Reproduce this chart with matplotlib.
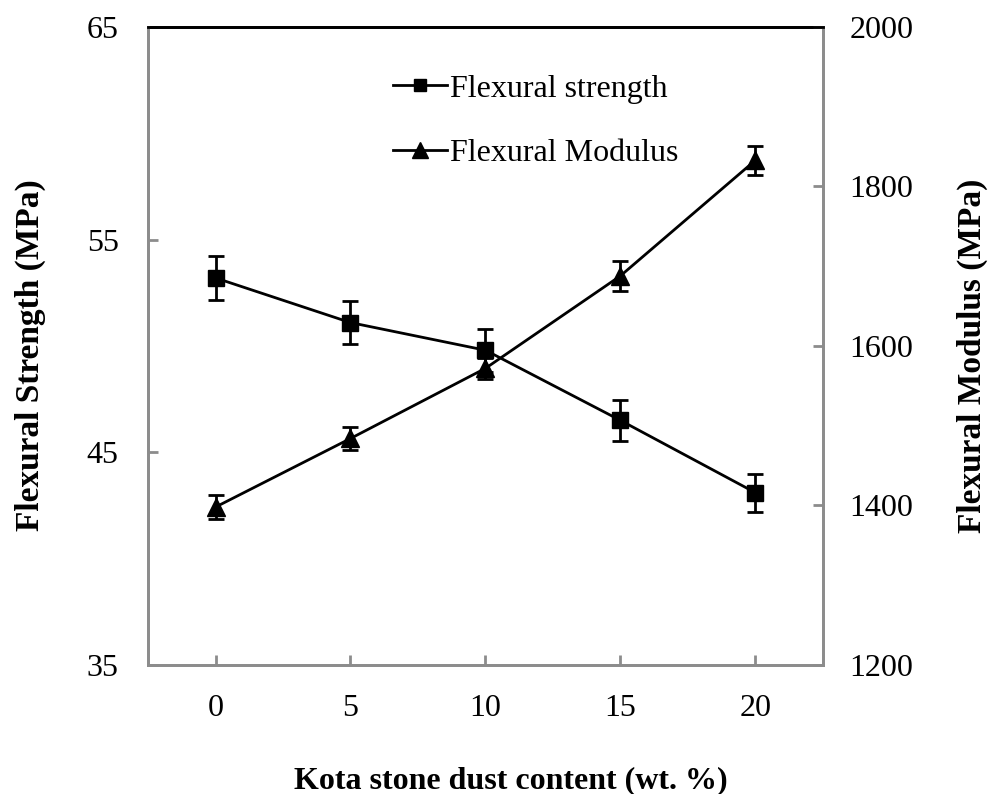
import numpy as np
import matplotlib.pyplot as plt
from matplotlib.lines import Line2D

plt.rcParams['font.family'] = ['Liberation Serif', 'DejaVu Serif']

# Data
content = [0, 5, 10, 15, 20]
strength = [53.2, 51.1, 49.8, 46.5, 43.1]
strength_err = [1.05, 1.0, 1.0, 0.95, 0.9]
modulus = [1398, 1484, 1572, 1688, 1833]
modulus_err = [15, 14, 13, 19, 18]

gray = '#8c8c8c'

fig = plt.figure(figsize=(9.9, 7.94), dpi=100)
ax = fig.add_axes([0.1495, 0.1625, 0.6818, 0.8035])
ax2 = ax.twinx()

ax.errorbar(content, strength, yerr=strength_err, color='black', marker='s',
            markersize=11, lw=2, elinewidth=2, capsize=6, capthick=2)
ax2.errorbar(content, modulus, yerr=modulus_err, color='black', marker='^',
             markersize=13, lw=2, elinewidth=2, capsize=6, capthick=2)

ax.set_xlim(-2.5, 22.5)
ax.set_ylim(35, 65)
ax2.set_ylim(1200, 2000)
ax.set_xticks(content)
ax.set_yticks([35, 45, 55, 65])
ax2.set_yticks([1200, 1400, 1600, 1800, 2000])

for a in (ax, ax2):
    for s in a.spines.values():
        s.set_color(gray)
        s.set_linewidth(2)
    a.spines['top'].set_color('black')
    a.tick_params(direction='in', length=7, width=2, color=gray,
                  labelsize=23)
ax.tick_params(axis='y', pad=21)
ax.tick_params(axis='x', pad=21)
ax2.tick_params(axis='y', pad=19)

ax.set_xlabel('Kota stone dust content (wt. %)', fontsize=23,
              fontweight='bold')
ax.set_ylabel('Flexural Strength (MPa)', fontsize=24, fontweight='bold')
ax2.set_ylabel('Flexural Modulus (MPa)', fontsize=24, fontweight='bold',
               rotation=90)
ax.xaxis.set_label_coords(0.538, -0.159)
ax.yaxis.set_label_coords(-0.151, 0.485)
ax2.yaxis.set_label_coords(1.198, 0.485)

handles = [Line2D([], [], color='black', marker='s', markersize=9, lw=2),
           Line2D([], [], color='black', marker='^', markersize=12, lw=2)]
ax.legend(handles, ['Flexural strength', 'Flexural Modulus'], frameon=False,
          fontsize=23, loc='upper left', bbox_to_anchor=(0.344, 0.946),
          labelspacing=1.1, handlelength=1.7, handletextpad=0.1,
          borderaxespad=0)

fig.savefig('out.png', dpi=100)
